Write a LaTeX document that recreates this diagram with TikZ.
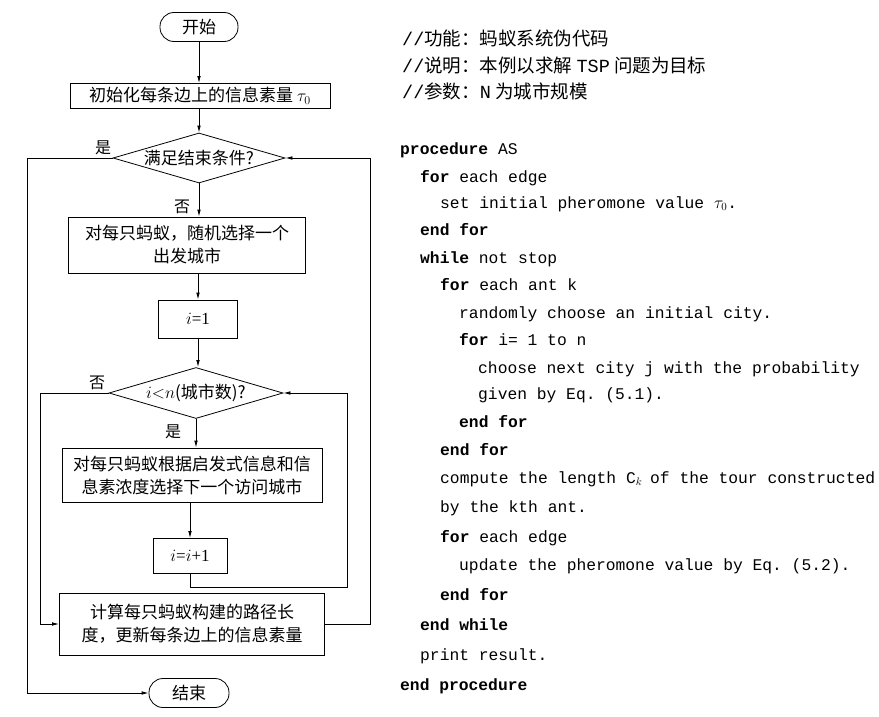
\documentclass[tikz,border=0pt]{standalone}
\usepackage{fontspec}
\setmainfont{Liberation Serif}
\setmonofont{Liberation Mono}
\newfontfamily\cjk{Noto Sans CJK SC}
\usetikzlibrary{arrows.meta}
\usetikzlibrary{shapes.geometric}

\tikzset{
  box/.style={draw, line width=0.8pt, inner sep=0pt, align=center,
    font=\cjk\fontsize{17}{23}\selectfont},
  term/.style={box, rounded corners=14pt, minimum width=78pt, minimum height=29pt},
  proc/.style={box},
  decide/.style={box, diamond, aspect=3.4},
  tag/.style={inner sep=0pt, font=\cjk\fontsize{16}{18}\selectfont},
  arr/.style={-{Latex[length=7pt,width=3.6pt]}, line width=0.8pt},
  code/.style={anchor=base west, inner sep=0pt, font=\ttfamily\fontsize{16.3}{20}\selectfont},
  note/.style={anchor=base west, inner sep=0pt, font=\cjk\fontsize{18.5}{20}\selectfont},
}

\begin{document}
\begin{tikzpicture}[x=1pt,y=-1pt]
			\useasboundingbox (0,0) rectangle (879,717);

			% flow chart
			\node[term] (start) at (199,27) {开始};
			\node[proc, minimum width=260pt, minimum height=25pt] (init) at (200,96) {初始化每条边上的信息素量 $\tau_0$};
			\node[decide, minimum width=172pt, minimum height=50pt] (cond) at (199,158) {满足结束条件?};
			\node[proc, minimum width=237pt, minimum height=56pt] (pick) at (187,245) {对每只蚂蚁，随机选择一个\\出发城市};
			\node[proc, minimum width=79pt, minimum height=38pt] (setI) at (198,319) {\rmfamily $i$=1};
			\node[decide, minimum width=174pt, minimum height=51pt] (test) at (196,393) {\rmfamily $i{<}n$\cjk(城市数)?};
			\node[proc, minimum width=260pt, minimum height=54pt] (move) at (192,475) {对每只蚂蚁根据启发式信息和信\\息素浓度选择下一个访问城市};
			\node[proc, minimum width=74pt, minimum height=35pt] (inc) at (190,556) {\rmfamily $i$=$i$+1};
			\node[proc, minimum width=265pt, minimum height=62pt] (upd) at (192,624) {计算每只蚂蚁构建的路径长\\度，更新每条边上的信息素量};
			\node[term, minimum width=80pt] (stop) at (189,693) {结束};

			\node[tag] (yes1) at (103,148) {是};
			\node[tag] (no1) at (182,207) {否};
			\node[tag] (no2) at (97,383) {否};
			\node[tag] (yes2) at (173,432) {是};

			\coordinate (railL) at (27,0);
			\coordinate (railR) at (370,0);
			\coordinate (loopL) at (40,0);
			\coordinate (loopB) at (347,587);

			\draw[arr] (start.south) -- (start.south |- init.north);
			\draw[arr] (init.south -| cond) -- (cond.north);
			\draw[arr] (cond.south) -- (cond.south |- pick.north);
			\draw[arr] (pick.south -| setI) -- (setI.north);
			\draw[arr] (setI.south) -- (setI.south |- test.north);
			\draw[arr] (test.south) -- (test.south |- move.north);
			\draw[arr] (move.south -| inc) -- (inc.north);
			\draw[arr] (inc.south) |- (loopB) |- (test.east);
			\draw[arr] (test.west) -- (test.west -| loopL) |- (upd.west);
			\draw[arr] (upd.east) -- (upd.east -| railR) |- (cond.east);
			\draw[arr] (cond.west) -- (cond.west -| railL) |- (stop.west);

			% pseudo code
			\node[note] (n1) at (402,46) {{\ttfamily //}功能：蚂蚁系统伪代码};
			\node[note] (n2) at (402,73) {{\ttfamily //}说明：本例以求解 {\ttfamily TSP} 问题为目标};
			\node[note] (n3) at (402,99) {{\ttfamily //}参数：{\ttfamily N} 为城市规模};

			\node[code] (l1) at (400,154) {\textbf{procedure} AS};
			\node[code] (l2) at (420,182) {\textbf{for} each edge};
			\node[code] (l3) at (440,208) {set initial pheromone value $\tau_0$.};
			\node[code] (l4) at (420,235) {\textbf{end for}};
			\node[code] (l5) at (420,263) {\textbf{while} not stop};
			\node[code] (l6) at (440,290) {\textbf{for} each ant k};
			\node[code] (l7) at (459,318) {randomly choose an initial city.};
			\node[code] (l8) at (459,345) {\textbf{for} i= 1 to n};
			\node[code] (l9) at (478,373) {choose next city j with the probability};
			\node[code] (l10) at (478,399) {given by Eq. (5.1).};
			\node[code] (l11) at (459,427) {\textbf{end for}};
			\node[code] (l12) at (440,455) {\textbf{end for}};
			\node[code] (l13) at (440,483) {compute the length C$_k$\kern-2pt{} of the tour constructed};
			\node[code] (l14) at (440,512) {by the kth ant.};
			\node[code] (l15) at (440,542) {\textbf{for} each edge};
			\node[code] (l16) at (459,570) {update the pheromone value by Eq. (5.2).};
			\node[code] (l17) at (440,600) {\textbf{end for}};
			\node[code] (l18) at (420,630) {\textbf{end while}};
			\node[code] (l19) at (420,660) {print result.};
			\node[code] (l20) at (400,690) {\textbf{end procedure}};
		\end{tikzpicture}
\end{document}
